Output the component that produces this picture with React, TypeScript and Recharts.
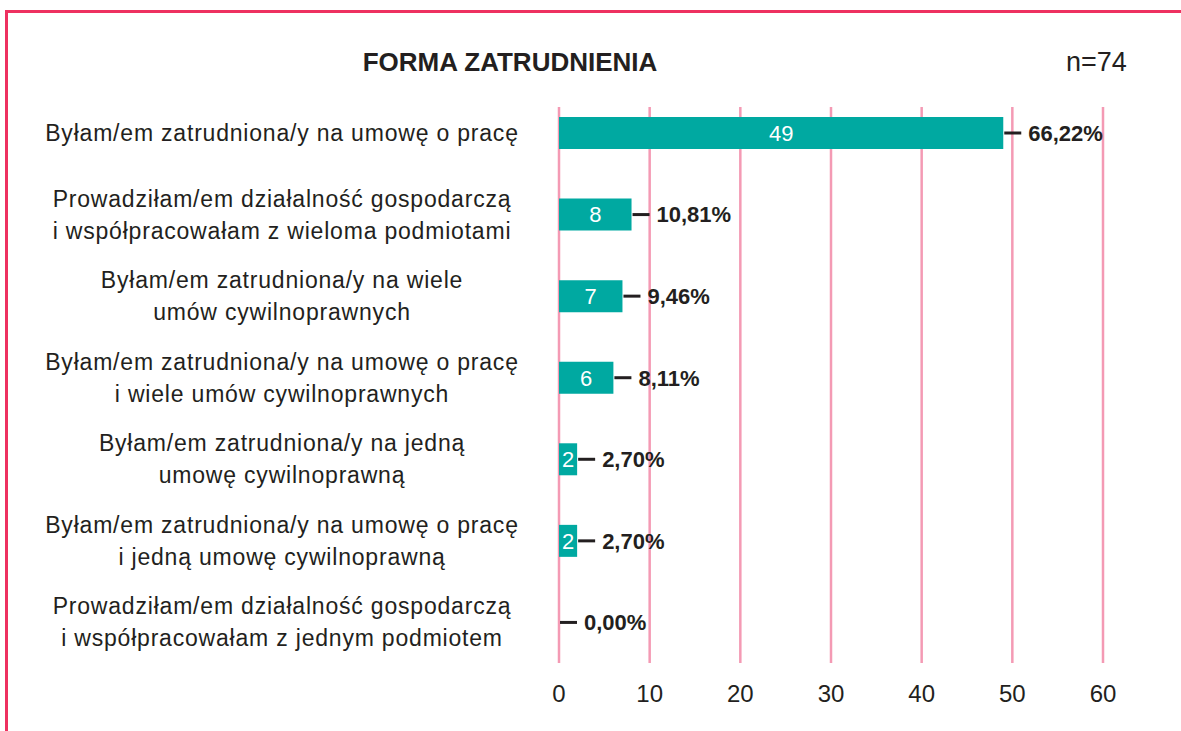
import React from "react";
import { BarChart, Bar, XAxis, YAxis, CartesianGrid, LabelList, Rectangle } from "recharts";

// Employment form, n=74
const categories = [
  ["Byłam/em zatrudniona/y na umowę o pracę"],
  ["Prowadziłam/em działalność gospodarczą", "i współpracowałam z wieloma podmiotami"],
  ["Byłam/em zatrudniona/y na wiele", "umów cywilnoprawnych"],
  ["Byłam/em zatrudniona/y na umowę o pracę", "i wiele umów cywilnoprawnych"],
  ["Byłam/em zatrudniona/y na jedną", "umowę cywilnoprawną"],
  ["Byłam/em zatrudniona/y na umowę o pracę", "i jedną umowę cywilnoprawną"],
  ["Prowadziłam/em działalność gospodarczą", "i współpracowałam z jednym podmiotem"],
];
const counts = [49, 8, 7, 6, 2, 2, 0];
const percents = ["66,22%", "10,81%", "9,46%", "8,11%", "2,70%", "2,70%", "0,00%"];
const xTicks = [0, 10, 20, 30, 40, 50, 60];

const data = categories.map((lines, i) => ({
  name: String(i),
  lines,
  value: counts[i],
  pct: percents[i],
}));

const FONT = "'Liberation Sans', Arial, Helvetica, sans-serif";
const TEAL = "#00a9a1";
const PINK = "#f49ab4";
const RED = "#ee3160";
const DARK = "#231f20";

const CategoryTick = (props: any) => {
  const { y, payload } = props;
  const lines: string[] = categories[Number(payload.value)];
  const lh = 32;
  const start = y - ((lines.length - 1) * lh) / 2;
  return (
    <text
      x={282}
      y={start}
      textAnchor="middle"
      fontFamily={FONT}
      fontSize={23}
      letterSpacing={0.8}
      fill={DARK}
    >
      {lines.map((l, i) => (
        <tspan key={i} x={282} y={start + i * lh} dy="0.36em">
          {l}
        </tspan>
      ))}
    </text>
  );
};

// bars with a zero count draw nothing, but keep their label position
const BarShape = (props: any) => {
  if (!props.value) return null;
  return <Rectangle {...props} />;
};

const renderCount = (props: any) => {
  const { x, y, width, height, value } = props;
  if (!value) return null;
  return (
    <text
      x={x + width / 2}
      y={y + height / 2}
      dy="0.36em"
      textAnchor="middle"
      fontFamily={FONT}
      fontSize={22}
      fill="#ffffff"
    >
      {value}
    </text>
  );
};

const renderPct = (props: any) => {
  const { x, y, width, height, value } = props;
  const end = x + (width > 1 ? width : 0);
  const cy = y + height / 2;
  return (
    <g>
      <line x1={end + 1} x2={end + 18} y1={cy} y2={cy} stroke={DARK} strokeWidth={3} />
      <text x={end + 25} y={cy} dy="0.36em" fontFamily={FONT} fontSize={22} fontWeight="bold" fill={DARK}>
        {value}
      </text>
    </g>
  );
};

const gridLine = (props: any) => (
  <line
    key={props.key}
    x1={props.x1}
    x2={props.x2}
    y1={props.y1 + 15}
    y2={props.y2}
    stroke={PINK}
    strokeWidth={2.5}
  />
);

export default function App() {
  return (
    <div
      style={{
        position: "absolute",
        top: 0,
        left: 0,
        width: 1181,
        height: 731,
        background: "#ffffff",
        overflow: "hidden",
        fontFamily: FONT,
      }}
    >
      <div style={{ position: "absolute", left: 6, top: 10, width: 1175, height: 3, background: RED }} />
      <div style={{ position: "absolute", left: 5, top: 10, width: 3, height: 721, background: RED }} />
      <div
        style={{
          position: "absolute",
          left: 310,
          top: 46,
          width: 400,
          textAlign: "center",
          fontSize: 26,
          fontWeight: "bold",
          color: DARK,
          lineHeight: "32px",
        }}
      >
        FORMA ZATRUDNIENIA
      </div>
      <div
        style={{ position: "absolute", left: 1066, top: 46, fontSize: 27, color: DARK, lineHeight: "32px" }}
      >
        n=74
      </div>
      <BarChart
        width={1181}
        height={731}
        data={data}
        layout="vertical"
        margin={{ top: 92, right: 78, bottom: 0, left: 0 }}
        style={{ position: "absolute", top: 0, left: 0 }}
      >
        <CartesianGrid horizontal={false} vertical={gridLine} />
        <XAxis
          type="number"
          domain={[0, 60]}
          ticks={xTicks}
          height={68}
          axisLine={false}
          tickLine={false}
          tickMargin={16}
          tick={{ fontFamily: FONT, fontSize: 24, fill: DARK }}
        />
        <YAxis
          type="category"
          dataKey="name"
          width={559}
          axisLine={false}
          tickLine={false}
          tick={<CategoryTick />}
          interval={0}
        />
        <Bar
          dataKey="value"
          fill={TEAL}
          barSize={32}
          minPointSize={1}
          shape={<BarShape />}
          isAnimationActive={false}
        >
          <LabelList dataKey="value" content={renderCount} />
          <LabelList dataKey="pct" content={renderPct} />
        </Bar>
      </BarChart>
    </div>
  );
}
